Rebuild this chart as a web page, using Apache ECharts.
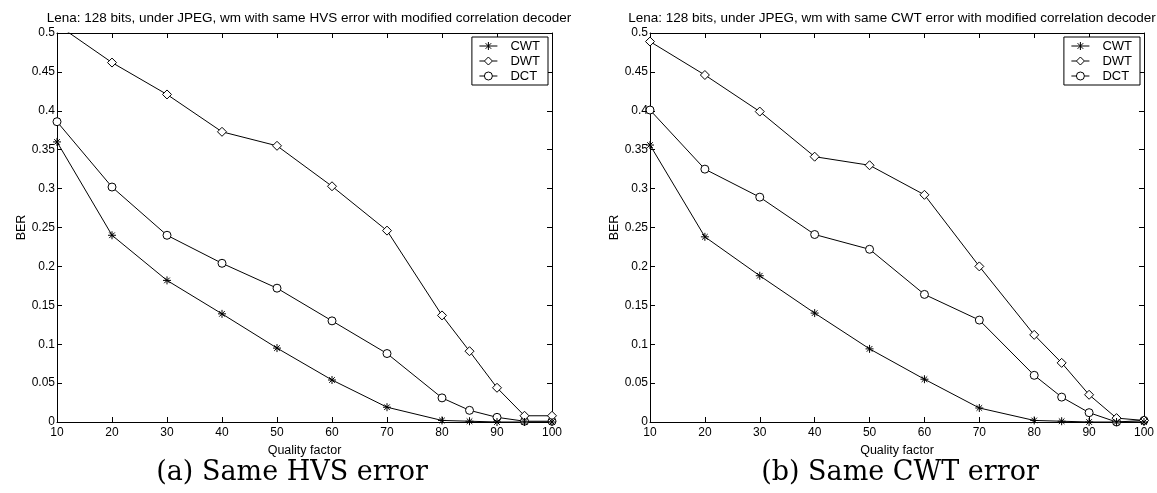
<!DOCTYPE html>
<html><head><meta charset="utf-8">
<script src="https://cdn.jsdelivr.net/npm/echarts@6/dist/echarts.min.js"></script>
<style>html,body{margin:0;padding:0;background:#fff}#c{width:1157px;height:493px}</style>
</head><body><div id="c"></div>
<script>
const qualityFactors = [10, 20, 30, 40, 50, 60, 70, 80, 85, 90, 95, 100];
const seriesNames = ['CWT', 'DWT', 'DCT'];
// (a) same HVS error
const hvsCWT = [0.360, 0.240, 0.182, 0.139, 0.095, 0.054, 0.019, 0.002, 0.001, 0.000, 0.000, 0.000];
const hvsDWT = [0.511, 0.462, 0.421, 0.373, 0.355, 0.303, 0.246, 0.137, 0.091, 0.044, 0.008, 0.008];
const hvsDCT = [0.386, 0.302, 0.240, 0.204, 0.172, 0.130, 0.088, 0.031, 0.015, 0.006, 0.001, 0.001];
// (b) same CWT error
const cwtCWT = [0.356, 0.238, 0.188, 0.140, 0.094, 0.055, 0.018, 0.002, 0.001, 0.000, 0.000, 0.000];
const cwtDWT = [0.489, 0.446, 0.399, 0.341, 0.330, 0.292, 0.200, 0.112, 0.076, 0.035, 0.005, 0.002];
const cwtDCT = [0.401, 0.325, 0.289, 0.241, 0.222, 0.164, 0.131, 0.060, 0.032, 0.012, 0.000, 0.002];
const titles = [
  'Lena: 128 bits, under JPEG, wm with same HVS error with modified correlation decoder',
  'Lena: 128 bits, under JPEG, wm with same CWT error with modified correlation decoder'
];
const captions = ['(a) Same HVS error', '(b) Same CWT error'];

const FONT = 'Liberation Sans';
const grids = [
  {left: 57, top: 33, width: 495, height: 389},
  {left: 650, top: 33, width: 494, height: 389}
];
const titleCenters = [304, 887];
const captionCenters = [287, 895];
const symbols = {
  CWT: {symbol: 'path://M0,-10L0,10M-10,0L10,0M-7,-7L7,7M-7,7L7,-7', size: 8, fill: '#000',
        icon: 'path://M0,4L18,4M9,0L9,8M6.2,1.2L11.8,6.8M6.2,6.8L11.8,1.2'},
  DWT: {symbol: 'diamond', size: 9, fill: '#fff',
        icon: 'path://M0,4L5,4M13,4L18,4M9,0L13,4L9,8L5,4Z'},
  DCT: {symbol: 'circle', size: 8, fill: '#fff',
        icon: 'path://M0,4L5,4M13,4L18,4M5,4A4,4 0 1,1 13,4A4,4 0 1,1 5,4Z'}
};
const dataSets = [[hvsCWT, hvsDWT, hvsDCT], [cwtCWT, cwtDWT, cwtDCT]];

const xAxes = [], yAxes = [], series = [], title = [], legend = [];
grids.forEach((g, gi) => {
  const tick = {show: true, inside: true, length: 5, lineStyle: {color: '#000', width: 1}};
  const line = {show: true, onZero: false, lineStyle: {color: '#000', width: 1}};
  xAxes.push({gridIndex: gi, type: 'value', min: 10, max: 100, interval: 10, position: 'bottom',
    axisLine: line, axisTick: tick, splitLine: {show: false},
    axisLabel: {color: '#000', fontFamily: FONT, fontSize: 12, margin: 5},
    name: 'Quality factor', nameLocation: 'middle', nameGap: 16,
    nameTextStyle: {color: '#000', fontFamily: FONT, fontSize: 12.5}});
  xAxes.push({gridIndex: gi, type: 'value', min: 10, max: 100, interval: 10, position: 'top',
    axisLine: line, axisTick: tick, splitLine: {show: false}, axisLabel: {show: false}});
  yAxes.push({gridIndex: gi, type: 'value', min: 0, max: 0.5, interval: 0.05, position: 'left',
    axisLine: line, axisTick: tick, splitLine: {show: false},
    axisLabel: {color: '#000', fontFamily: FONT, fontSize: 12, margin: 2},
    name: 'BER', nameLocation: 'middle', nameGap: 27, nameRotate: 90,
    nameTextStyle: {color: '#000', fontFamily: FONT, fontSize: 12.5}});
  yAxes.push({gridIndex: gi, type: 'value', min: 0, max: 0.5, interval: 0.05, position: 'right',
    axisLine: line, axisTick: tick, splitLine: {show: false}, axisLabel: {show: false}});
  seriesNames.forEach((n, si) => {
    const s = symbols[n];
    series.push({
      name: n, type: 'line', xAxisIndex: gi * 2, yAxisIndex: gi * 2,
      data: qualityFactors.map((q, i) => [q, dataSets[gi][si][i]]),
      symbol: s.symbol, symbolSize: s.size, showAllSymbol: true, clip: true,
      lineStyle: {color: '#000', width: 1},
      itemStyle: {color: s.fill, borderColor: '#000', borderWidth: 1},
      emphasis: {disabled: true}, z: 3 - si
    });
  });
  title.push({text: titles[gi], left: titleCenters[gi], top: 6, textAlign: 'center',
    textStyle: {color: '#000', fontFamily: FONT, fontSize: 13.5, fontWeight: 'normal'}});
  title.push({text: captions[gi], left: captionCenters[gi], top: 454, textAlign: 'center',
    textStyle: {color: '#000', fontFamily: 'DejaVu Serif', fontSize: 27, fontWeight: 'normal'}});
  legend.push({
    data: seriesNames.map(n => ({name: n, icon: symbols[n].icon,
      itemStyle: {color: symbols[n].fill, borderColor: '#000', borderWidth: 1}})),
    orient: 'vertical', right: 1157 - (g.left + g.width) + 4, top: 37,
    backgroundColor: '#fff', borderColor: '#000', borderWidth: 1, borderRadius: 0,
    padding: [2, 8, 2, 7], itemGap: 1, itemWidth: 18, itemHeight: 8, selectedMode: false,
    textStyle: {color: '#000', fontFamily: FONT, fontSize: 13, padding: [0, 0, 0, 8], lineHeight: 14}});
});

const chart = echarts.init(document.getElementById('c'), null, {renderer: 'canvas'});
chart.setOption({
  animation: false, backgroundColor: '#fff',
  title: title, legend: legend, grid: grids,
  xAxis: xAxes, yAxis: yAxes, series: series
});
</script></body></html>
